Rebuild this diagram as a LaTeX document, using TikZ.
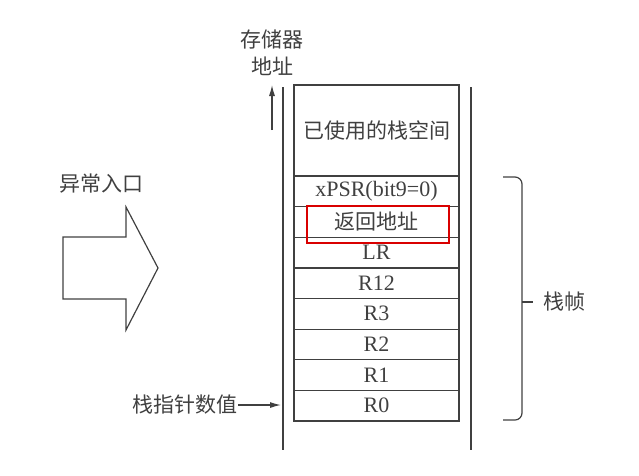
\documentclass[tikz,border=0pt]{standalone}
\usepackage{fontspec}
\setmainfont{Liberation Serif}
\newfontfamily\cjk{Noto Sans CJK SC}
\usetikzlibrary{arrows.meta}

\begin{document}
\begin{tikzpicture}[x=1pt,y=-1pt,line width=1.2pt,color=black!75,>={Latex[length=11pt,width=6pt]},
  slot/.style={draw,shape=rectangle,minimum width=165pt,minimum height=30.6pt,inner sep=0pt,font=\fontsize{22}{22}\selectfont},
  lbl/.style={inner sep=0pt,font=\cjk\fontsize{21}{27}\selectfont}]
  \useasboundingbox (0,0) rectangle (639,475);
  % stack slots
  \node[slot,minimum height=91pt] (used) at (376.5,130.5) {\cjk\fontsize{21}{21}\selectfont 已使用的栈空间};
  \node[slot] (xpsr) at (376.5,191.3) {xPSR(bit9=0)};
  \node[slot] (ret) at (376.5,221.9) {\cjk\fontsize{21}{21}\selectfont 返回地址};
  \node[slot] (lr) at (376.5,252.6) {LR};
  \node[slot] (r12) at (376.5,283.2) {R12};
  \node[slot] (r3) at (376.5,313.8) {R3};
  \node[slot] (r2) at (376.5,344.4) {R2};
  \node[slot] (r1) at (376.5,375.1) {R1};
  \node[slot] (r0) at (376.5,405.7) {R0};
  \node[draw=red!85!black,line width=1.8pt,shape=rectangle,minimum width=142pt,minimum height=37pt] (mark) at (378,224.5) {};
  % memory walls
  \draw (283,87) -- (283,450);
  \draw (471,87) -- (471,450);
  % address direction
  \node[lbl,align=center] (addr) at (272,53) {存储器\\地址};
  \coordinate (addrtail) at (272,130);
  \coordinate (addrhead) at (272,85);
  \draw[->] (addrtail) -- (addrhead);
  % exception entry
  \node[lbl] (entry) at (101,184) {异常入口};
  \draw (63,237) -- (126,237) -- (126,207) -- (158,268) -- (126,330) -- (126,299) -- (63,299) -- cycle;
  % stack pointer
  \node[lbl,anchor=east] (sp) at (238,405) {栈指针数值};
  \coordinate (sptip) at (281,405);
  \draw[->] (sp) -- (sptip);
  % frame brace
  \draw[rounded corners=7pt] (503,177) -- (522,177) -- (522,420) -- (503,420);
  \node[lbl,anchor=west] (frame) at (543,302) {栈帧};
  \coordinate (framemid) at (522,302);
  \coordinate (frametick) at (533,302);
  \draw (framemid) -- (frametick);
\end{tikzpicture}
\end{document}
